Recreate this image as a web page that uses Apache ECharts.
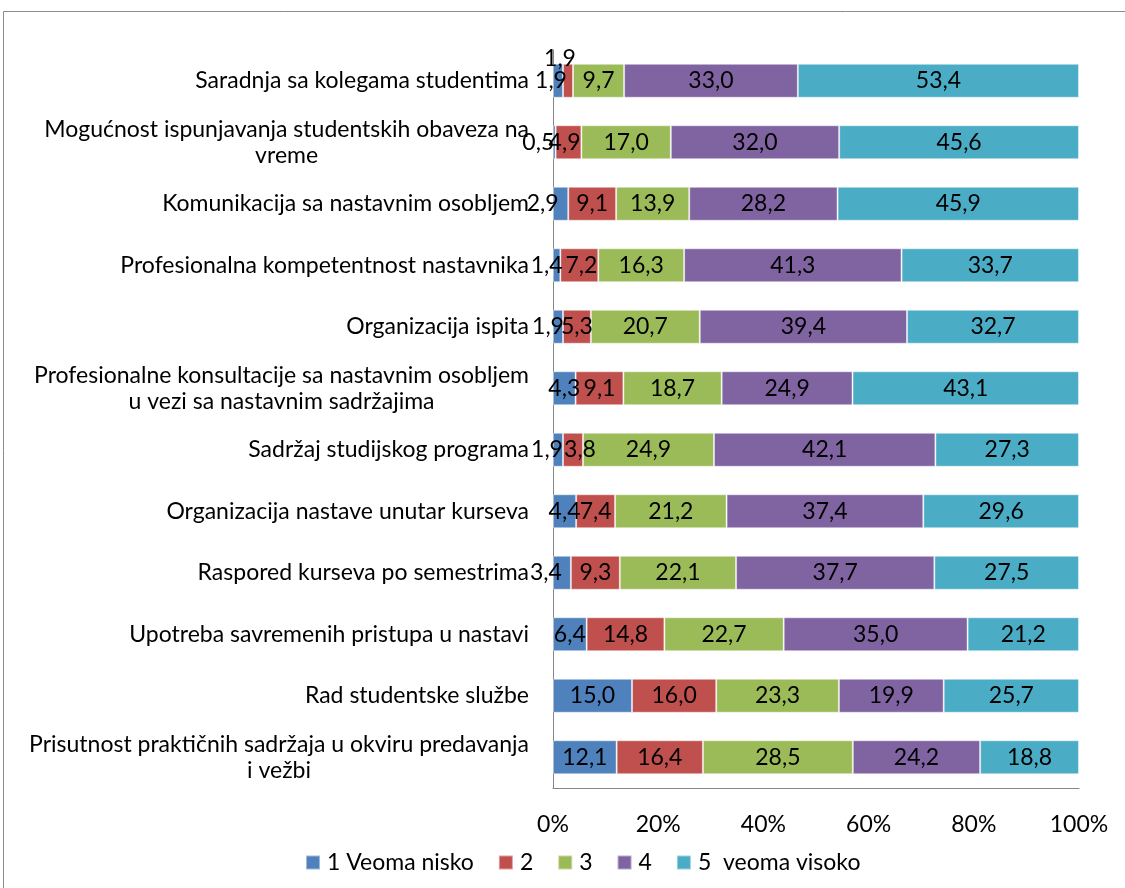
<!DOCTYPE html>
<html>
<head>
<meta charset="utf-8">
<script src="https://cdn.jsdelivr.net/npm/echarts@6/dist/echarts.min.js"></script>
<style>
html,body{margin:0;padding:0;background:#fff;}
#chart{width:1125px;height:888px;}
</style>
</head>
<body>
<div id="chart"></div>
<script>
const categories = [
  'Saradnja sa kolegama studentima',
  'Mogućnost ispunjavanja studentskih obaveza na\nvreme',
  'Komunikacija sa nastavnim osobljem',
  'Profesionalna kompetentnost nastavnika',
  'Organizacija ispita',
  'Profesionalne konsultacije sa nastavnim osobljem\nu vezi sa nastavnim sadržajima',
  'Sadržaj studijskog programa',
  'Organizacija nastave unutar kurseva',
  'Raspored kurseva po semestrima',
  'Upotreba savremenih pristupa u nastavi',
  'Rad studentske službe',
  'Prisutnost praktičnih sadržaja u okviru predavanja\ni vežbi'
];
const seriesNames = ['1 Veoma nisko', '2', '3', '4', '5  veoma visoko'];
const level1 = [1.9, 0.5, 2.9, 1.4, 1.9, 4.3, 1.9, 4.4, 3.4, 6.4, 15.0, 12.1];
const level2 = [1.9, 4.9, 9.1, 7.2, 5.3, 9.1, 3.8, 7.4, 9.3, 14.8, 16.0, 16.4];
const level3 = [9.7, 17.0, 13.9, 16.3, 20.7, 18.7, 24.9, 21.2, 22.1, 22.7, 23.3, 28.5];
const level4 = [33.0, 32.0, 28.2, 41.3, 39.4, 24.9, 42.1, 37.4, 37.7, 35.0, 19.9, 24.2];
const level5 = [53.4, 45.6, 45.9, 33.7, 32.7, 43.1, 27.3, 29.6, 27.5, 21.2, 25.7, 18.8];
const tickLabels = ['0%', '20%', '40%', '60%', '80%', '100%'];

const levels = [level1, level2, level3, level4, level5];
const colors = ['#4F81BD', '#C0504D', '#9BBB59', '#8064A2', '#4BACC6'];
const FONT = 'Lato';
const FS = 23;
const totals = categories.map((c, i) => levels.reduce((s, arr) => s + arr[i], 0));

// label nudges for small segments (series index -> row index -> [dx, dy]), styling only
const labelNudge = {
  0: { 0: [-7, 0], 1: [-16, 0], 2: [-18, 0], 3: [-10, 0], 4: [-10, 0], 6: [-11, 0], 8: [-16, 0] },
  1: { 0: [-8, -22], 1: [-4, 0], 3: [2, 0], 6: [7, 0] }
};

const series = levels.map((arr, k) => ({
  name: seriesNames[k],
  type: 'bar',
  stack: 'total',
  barWidth: 34,
  itemStyle: { color: colors[k], borderColor: 'rgba(255,255,255,0.45)', borderWidth: 1 },
  label: {
    show: true,
    position: 'inside',
    color: '#000',
    fontFamily: FONT,
    fontSize: FS,
    formatter: p => p.data.raw.toFixed(1).replace('.', ',')
  },
  data: arr.map((v, i) => {
    const item = { value: v / totals[i] * 100, raw: v };
    if (labelNudge[k] && labelNudge[k][i]) item.label = { offset: labelNudge[k][i] };
    return item;
  })
}));

const chart = echarts.init(document.getElementById('chart'), null, { renderer: 'canvas' });
chart.setOption({
  animation: false,
  backgroundColor: '#fff',
  color: colors,
  graphic: [{
    type: 'rect',
    shape: { x: 3.5, y: 11.5, width: 1140, height: 900 },
    style: { fill: 'none', stroke: '#8c8c8c', lineWidth: 1 },
    silent: true
  }],
  grid: { left: 553, right: 46, top: 50, bottom: 100, containLabel: false },
  legend: {
    left: 300,
    top: 846,
    itemWidth: 14,
    itemHeight: 14,
    itemGap: 24,
    icon: 'rect',
    textStyle: { fontFamily: FONT, fontSize: FS, color: '#000', padding: [0, 0, 0, 2] },
    data: seriesNames
  },
  xAxis: {
    type: 'value',
    min: 0,
    max: 100,
    interval: 20,
    axisLine: { show: true, lineStyle: { color: '#868686' } },
    axisTick: { show: false },
    splitLine: { show: false },
    axisLabel: {
      margin: 25,
      fontFamily: FONT,
      fontSize: FS,
      color: '#000',
      formatter: v => tickLabels[Math.round(v / 20)]
    }
  },
  yAxis: {
    type: 'category',
    inverse: true,
    data: categories,
    axisLine: { show: true, lineStyle: { color: '#868686' } },
    axisTick: { show: false },
    axisLabel: {
      margin: 24,
      fontFamily: FONT,
      fontSize: FS,
      color: '#000',
      lineHeight: 26,
      formatter: v => v.indexOf('\n') >= 0 ? v.split('\n').map(l => '{c|' + l + '}').join('\n') : v,
      rich: { c: { align: 'center', fontFamily: FONT, fontSize: FS, color: '#000', lineHeight: 26 } }
    }
  },
  series: series
});
</script>
</body>
</html>
